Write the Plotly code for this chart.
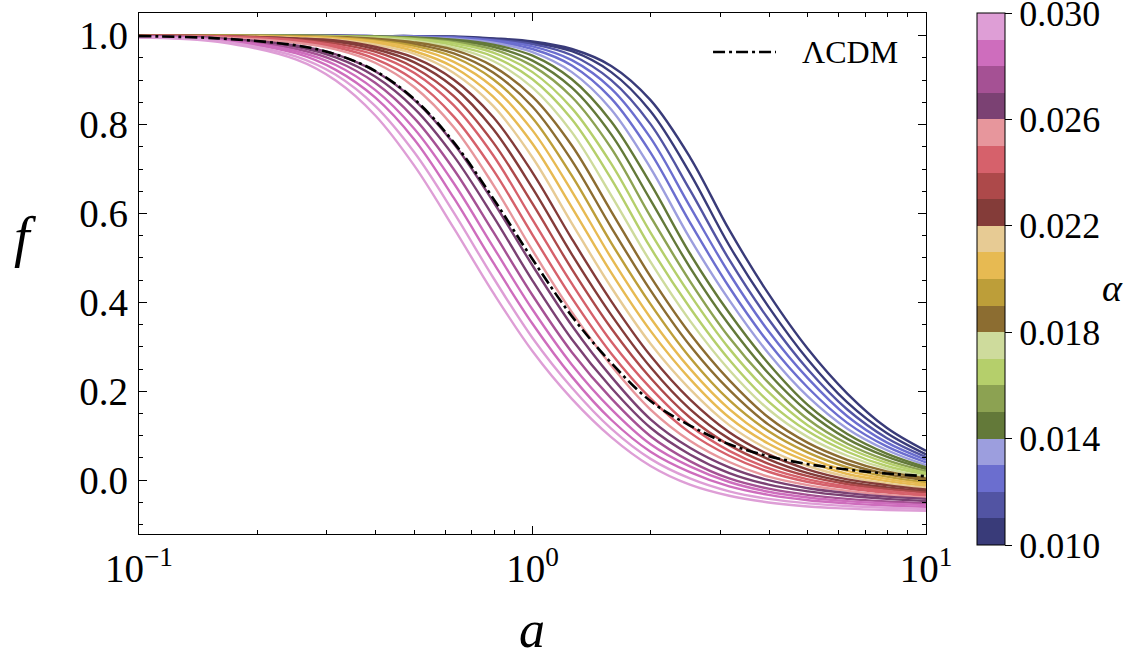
import plotly.graph_objects as go

# ---------------- data ----------------
A_GRID = [0.1, 0.1585, 0.2512, 0.3162, 0.3981, 0.5012, 0.631, 0.7943, 1.0, 1.2589,
          1.5849, 1.9953, 2.5119, 3.1623, 3.9811, 5.0119, 6.3096, 7.9433, 10.0]

ALPHA = [0.0100, 0.01067, 0.01133, 0.0120, 0.01267, 0.01333, 0.0140, 0.01467, 0.01533,
         0.0160, 0.01667, 0.01733, 0.0180, 0.01867, 0.01933, 0.0200, 0.02067, 0.02133,
         0.0220, 0.02267, 0.02333, 0.0240, 0.02467, 0.02533, 0.0260, 0.02667, 0.02733,
         0.0280, 0.02867, 0.02933, 0.0300]

F_CURVES = [
    [1.000, 1.000, 1.000, 1.000, 0.999, 0.999, 0.998, 0.994, 0.987, 0.970, 0.932, 0.855, 0.727, 0.563, 0.419, 0.295, 0.195, 0.118, 0.066],
    [1.000, 1.000, 1.000, 1.000, 0.999, 0.999, 0.997, 0.993, 0.984, 0.965, 0.918, 0.830, 0.691, 0.528, 0.390, 0.271, 0.175, 0.106, 0.058],
    [1.000, 1.000, 1.000, 1.000, 0.999, 0.999, 0.996, 0.991, 0.981, 0.956, 0.900, 0.801, 0.653, 0.496, 0.362, 0.249, 0.159, 0.095, 0.052],
    [1.000, 1.000, 1.000, 0.999, 0.999, 0.998, 0.996, 0.989, 0.976, 0.945, 0.881, 0.770, 0.616, 0.465, 0.335, 0.229, 0.144, 0.085, 0.046],
    [1.000, 1.000, 1.000, 0.999, 0.999, 0.997, 0.994, 0.987, 0.970, 0.933, 0.859, 0.737, 0.580, 0.434, 0.309, 0.208, 0.129, 0.076, 0.040],
    [1.000, 1.000, 1.000, 0.999, 0.999, 0.997, 0.993, 0.984, 0.963, 0.918, 0.834, 0.702, 0.544, 0.405, 0.285, 0.188, 0.116, 0.068, 0.034],
    [1.000, 1.000, 1.000, 0.999, 0.998, 0.996, 0.991, 0.980, 0.955, 0.902, 0.807, 0.667, 0.510, 0.376, 0.262, 0.169, 0.104, 0.060, 0.029],
    [1.000, 1.000, 1.000, 0.999, 0.998, 0.995, 0.989, 0.975, 0.944, 0.883, 0.778, 0.630, 0.479, 0.349, 0.240, 0.154, 0.093, 0.053, 0.025],
    [1.000, 1.000, 1.000, 0.999, 0.997, 0.994, 0.986, 0.969, 0.932, 0.862, 0.747, 0.593, 0.448, 0.321, 0.219, 0.137, 0.082, 0.045, 0.020],
    [1.000, 1.000, 0.999, 0.998, 0.997, 0.992, 0.983, 0.962, 0.918, 0.837, 0.712, 0.557, 0.418, 0.296, 0.198, 0.123, 0.073, 0.039, 0.016],
    [1.000, 1.000, 0.999, 0.998, 0.996, 0.991, 0.978, 0.953, 0.902, 0.812, 0.678, 0.523, 0.388, 0.271, 0.177, 0.110, 0.064, 0.032, 0.013],
    [1.000, 1.000, 0.998, 0.997, 0.994, 0.988, 0.973, 0.943, 0.883, 0.783, 0.641, 0.491, 0.359, 0.248, 0.159, 0.097, 0.055, 0.026, 0.008],
    [1.000, 1.000, 0.998, 0.997, 0.993, 0.985, 0.968, 0.931, 0.863, 0.753, 0.605, 0.458, 0.330, 0.225, 0.141, 0.084, 0.046, 0.020, 0.004],
    [1.000, 1.000, 0.998, 0.996, 0.991, 0.981, 0.960, 0.917, 0.840, 0.719, 0.569, 0.427, 0.303, 0.203, 0.125, 0.073, 0.037, 0.014, 0.000],
    [1.000, 1.000, 0.998, 0.996, 0.989, 0.977, 0.952, 0.902, 0.815, 0.685, 0.534, 0.396, 0.276, 0.180, 0.110, 0.062, 0.029, 0.008, -0.005],
    [1.000, 0.999, 0.997, 0.994, 0.987, 0.972, 0.941, 0.884, 0.787, 0.650, 0.500, 0.365, 0.251, 0.160, 0.095, 0.051, 0.021, 0.003, -0.009],
    [1.000, 0.999, 0.996, 0.993, 0.984, 0.965, 0.929, 0.863, 0.757, 0.614, 0.467, 0.336, 0.228, 0.141, 0.082, 0.042, 0.014, -0.002, -0.013],
    [1.000, 0.999, 0.995, 0.991, 0.980, 0.959, 0.916, 0.842, 0.726, 0.578, 0.434, 0.307, 0.205, 0.124, 0.069, 0.032, 0.008, -0.007, -0.017],
    [1.000, 0.999, 0.994, 0.989, 0.975, 0.950, 0.901, 0.817, 0.692, 0.543, 0.403, 0.280, 0.182, 0.108, 0.058, 0.024, 0.002, -0.011, -0.021],
    [1.000, 0.999, 0.993, 0.986, 0.970, 0.940, 0.884, 0.790, 0.657, 0.508, 0.372, 0.254, 0.160, 0.093, 0.047, 0.016, -0.004, -0.016, -0.025],
    [0.999, 0.999, 0.991, 0.982, 0.964, 0.928, 0.864, 0.760, 0.622, 0.475, 0.342, 0.230, 0.141, 0.079, 0.037, 0.009, -0.009, -0.020, -0.028],
    [0.999, 0.998, 0.990, 0.978, 0.957, 0.916, 0.843, 0.731, 0.586, 0.442, 0.312, 0.207, 0.123, 0.066, 0.027, 0.002, -0.014, -0.024, -0.032],
    [0.999, 0.998, 0.987, 0.974, 0.948, 0.900, 0.818, 0.698, 0.552, 0.410, 0.285, 0.184, 0.107, 0.055, 0.019, -0.004, -0.018, -0.028, -0.035],
    [0.999, 0.996, 0.984, 0.969, 0.939, 0.884, 0.794, 0.665, 0.517, 0.378, 0.258, 0.159, 0.089, 0.041, 0.008, -0.011, -0.024, -0.033, -0.039],
    [0.999, 0.994, 0.978, 0.958, 0.920, 0.855, 0.757, 0.627, 0.483, 0.348, 0.233, 0.137, 0.073, 0.029, 0.000, -0.018, -0.029, -0.037, -0.042],
    [0.998, 0.994, 0.975, 0.951, 0.908, 0.836, 0.729, 0.594, 0.449, 0.317, 0.208, 0.118, 0.058, 0.016, -0.010, -0.025, -0.035, -0.042, -0.047],
    [0.998, 0.992, 0.970, 0.943, 0.894, 0.814, 0.699, 0.559, 0.416, 0.288, 0.184, 0.099, 0.043, 0.004, -0.019, -0.033, -0.042, -0.048, -0.052],
    [0.998, 0.991, 0.965, 0.934, 0.878, 0.790, 0.668, 0.525, 0.384, 0.260, 0.160, 0.081, 0.031, -0.004, -0.026, -0.039, -0.047, -0.052, -0.056],
    [0.997, 0.990, 0.960, 0.923, 0.861, 0.766, 0.635, 0.490, 0.352, 0.233, 0.136, 0.064, 0.018, -0.014, -0.033, -0.045, -0.052, -0.057, -0.060],
    [0.997, 0.988, 0.953, 0.912, 0.842, 0.737, 0.602, 0.456, 0.320, 0.208, 0.116, 0.048, 0.004, -0.025, -0.042, -0.052, -0.058, -0.062, -0.065],
    [0.996, 0.986, 0.946, 0.899, 0.821, 0.707, 0.567, 0.422, 0.290, 0.183, 0.097, 0.032, -0.010, -0.035, -0.050, -0.059, -0.064, -0.067, -0.069],
]

F_LCDM = [0.999, 0.994, 0.978, 0.958, 0.921, 0.857, 0.760, 0.634, 0.497, 0.369,
          0.264, 0.178, 0.123, 0.081, 0.054, 0.036, 0.024, 0.015, 0.009]

X_TICKS = [0.1, 1, 10]
X_TICKTEXT = ["10<sup>\u22121</sup>", "10<sup>0</sup>", "10<sup>1</sup>"]
X_MINOR = [0.2, 0.3, 0.4, 0.5, 0.6, 0.7, 0.8, 0.9, 2, 3, 4, 5, 6, 7, 8, 9]
Y_TICKS = [0.0, 0.2, 0.4, 0.6, 0.8, 1.0]
Y_TICKTEXT = ["0.0", "0.2", "0.4", "0.6", "0.8", "1.0"]
CB_TICKS = [0.010, 0.014, 0.018, 0.022, 0.026, 0.030]
CB_TICKTEXT = ["0.010", "0.014", "0.018", "0.022", "0.026", "0.030"]

# ---------------- styles ----------------
TAB20B = ["#393b79", "#5254a3", "#6b6ecf", "#9c9ede",
          "#637939", "#8ca252", "#b5cf6b", "#cedb9c",
          "#8c6d31", "#bd9e39", "#e7ba52", "#e7cb94",
          "#843c39", "#ad494a", "#d6616b", "#e7969c",
          "#7b4173", "#a55194", "#ce6dbd", "#de9ed6"]
A_MIN, A_MAX = 0.010, 0.030
FONT = "Liberation Serif"
TICK_SIZE = 39
CB_TICK_SIZE = 36

colorscale = []
nb = len(TAB20B)
for i, c in enumerate(TAB20B):
    colorscale.append([i / nb, c])
    colorscale.append([(i + 1) / nb, c])


def band_color(v):
    t = (v - A_MIN) / (A_MAX - A_MIN)
    i = int(t * nb + 1e-6)
    return TAB20B[max(0, min(nb - 1, i))]


fig = go.Figure()

for alpha, fvals in zip(ALPHA, F_CURVES):
    fig.add_trace(go.Scatter(
        x=A_GRID, y=fvals, mode="lines",
        line=dict(color=band_color(alpha), width=2.4, shape="spline", smoothing=1.0),
        hoverinfo="skip", showlegend=False))

fig.add_trace(go.Scatter(
    x=A_GRID, y=F_LCDM, mode="lines", name="\u039bCDM",
    line=dict(color="black", width=2.6, dash="12px,4px,3px,4px", shape="spline", smoothing=1.0),
    showlegend=False))

# colour bar carrier
fig.add_trace(go.Scatter(
    x=[None, None], y=[None, None], mode="markers",
    marker=dict(color=[A_MIN, A_MAX], cmin=A_MIN, cmax=A_MAX + 1e-9, colorscale=colorscale,
                showscale=True,
                colorbar=dict(
                    thickness=28, thicknessmode="pixels",
                    len=532, lenmode="pixels",
                    x=1.0654, xanchor="left", xpad=0,
                    y=1.0, yanchor="top", ypad=0,
                    outlinewidth=1, outlinecolor="black",
                    tickmode="array", tickvals=CB_TICKS, ticktext=CB_TICKTEXT,
                    ticks="outside", ticklen=7, tickcolor="black", tickwidth=1,
                    ticklabeloverflow="allow",
                    tickfont=dict(family=FONT, size=CB_TICK_SIZE, color="black"))),
    showlegend=False, hoverinfo="skip"))

axis_common = dict(
    showline=True, linecolor="black", linewidth=1.2, mirror="allticks",
    ticks="inside", ticklen=8, tickwidth=1, tickcolor="black",
    showgrid=False, zeroline=False,
    tickfont=dict(family=FONT, size=TICK_SIZE, color="black"),
)

fig.update_xaxes(type="log", range=[-1, 1], tickmode="array",
                 tickvals=X_TICKS, ticktext=X_TICKTEXT, ticklabelstandoff=0,
                 minor=dict(ticks="inside", ticklen=4, tickwidth=1, tickcolor="black",
                            tickvals=X_MINOR, showgrid=False),
                 **axis_common)
fig.update_yaxes(range=[-0.121, 1.051], tickmode="array",
                 tickvals=Y_TICKS, ticktext=Y_TICKTEXT, ticklabelstandoff=2,
                 minor=dict(ticks="inside", ticklen=4, tickwidth=1, tickcolor="black",
                            tick0=0, dtick=0.05, showgrid=False),
                 **axis_common)

# legend drawn by hand (long dash-dot sample like the reference)
fig.add_shape(type="line", xref="paper", yref="paper",
              x0=0.7294, x1=0.8094, y0=0.9251, y1=0.9251,
              line=dict(color="black", width=2.6, dash="12px,4px,3px,4px"))
fig.add_annotation(text="\u039bCDM", xref="paper", yref="paper", x=0.8400, y=0.9251,
                   xanchor="left", yanchor="middle", showarrow=False,
                   font=dict(family=FONT, size=32, color="black"))

# axis titles
fig.add_annotation(text="<i>f</i>", xref="paper", yref="paper", x=-0.1445, y=0.5700,
                   xanchor="center", yanchor="middle", showarrow=False,
                   font=dict(family=FONT, size=56, color="black"))
fig.add_annotation(text="<i>a</i>", xref="paper", yref="paper", x=0.4994, y=-0.184,
                   xanchor="center", yanchor="middle", showarrow=False,
                   font=dict(family=FONT, size=52, color="black"))
fig.add_annotation(text="<i>\u03b1</i>", xref="paper", yref="paper", x=1.2370, y=0.472,
                   xanchor="center", yanchor="middle", showarrow=False,
                   font=dict(family=FONT, size=38, color="black"))

fig.update_layout(width=1134, height=657,
                  margin=dict(l=139, r=208, t=13, b=123, pad=0),
                  paper_bgcolor="white", plot_bgcolor="white",
                  showlegend=False,
                  font=dict(family=FONT, color="black"))

fig.write_html("out.html")
